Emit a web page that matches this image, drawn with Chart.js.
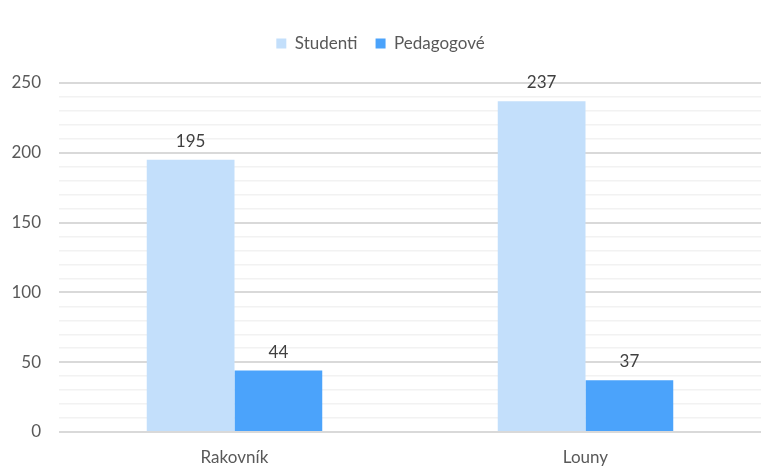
<!DOCTYPE html>
<html>
<head>
<meta charset="utf-8">
<script src="https://cdn.jsdelivr.net/npm/chart.js@4"></script>
<style>
  html, body { margin: 0; padding: 0; background: #fff; }
  #wrap { width: 771px; height: 473px; }
</style>
</head>
<body>
<div id="wrap"><canvas id="chart" width="771" height="473"></canvas></div>
<script>
const mista = ["Rakovník", "Louny"];
const studenti = [195, 237];
const pedagogove = [44, 37];
const seriesNames = ["Studenti", "Pedagogové"];

const FONT = "Lato, 'Open Sans', sans-serif";

// values printed above each bar
const valueLabels = {
    id: "valueLabels",
    afterDatasetsDraw(chart) {
        const ctx = chart.ctx;
        ctx.save();
        ctx.font = "17px " + FONT;
        ctx.fillStyle = "#404040";
        ctx.textAlign = "center";
        ctx.textBaseline = "bottom";
        chart.data.datasets.forEach((ds, i) => {
            chart.getDatasetMeta(i).data.forEach((bar, j) => {
                ctx.fillText(ds.data[j], bar.x, bar.y - 10);
            });
        });
        ctx.restore();
    },
};

// fixed legend height so the plot starts lower
const legendSpace = {
    id: "legendSpace",
    beforeInit(chart) {
        const fit = chart.legend.fit;
        chart.legend.fit = function () {
            fit.bind(chart.legend)();
            this.height = 66;
        };
    },
};

new Chart(document.getElementById("chart"), {
    type: "bar",
    data: {
        labels: mista,
        datasets: [
            {
                label: seriesNames[0],
                data: studenti,
                backgroundColor: "#c3dffb",
            },
            {
                label: seriesNames[1],
                data: pedagogove,
                backgroundColor: "#4ba3fb",
            },
        ],
    },
    options: {
        responsive: false,
        animation: false,
        layout: { padding: { top: 17, right: 10, left: 0, bottom: 0 } },
        datasets: {
            bar: { categoryPercentage: 0.5, barPercentage: 1.0 },
        },
        plugins: {
            legend: {
                position: "top",
                labels: {
                    boxWidth: 10,
                    boxHeight: 10,
                    padding: 18,
                    color: "#595959",
                    font: { family: FONT, size: 17 },
                },
            },
            tooltip: { enabled: false },
        },
        scales: {
            x: {
                grid: { display: false, drawTicks: false },
                border: { display: false },
                ticks: { color: "#595959", font: { family: FONT, size: 17 }, padding: 15 },
                afterFit(axis) { axis.height = 41; },
            },
            y: {
                min: 0,
                max: 250,
                ticks: {
                    stepSize: 10,
                    autoSkip: false,
                    color: "#595959",
                    padding: 18,
                    font: { family: FONT, size: 17 },
                    callback: (v) => (v % 50 === 0 ? v : ""),
                },
                grid: {
                    drawTicks: false,
                    lineWidth: (c) => (c.tick && c.tick.value % 50 === 0 ? 2 : 1.5),
                    color: (c) => (c.tick && c.tick.value % 50 === 0 ? "#d9d9d9" : "#f2f2f2"),
                },
                border: { display: false },
                afterFit(axis) { axis.width = 59; },
            },
        },
    },
    plugins: [valueLabels, legendSpace],
});
</script>
</body>
</html>
